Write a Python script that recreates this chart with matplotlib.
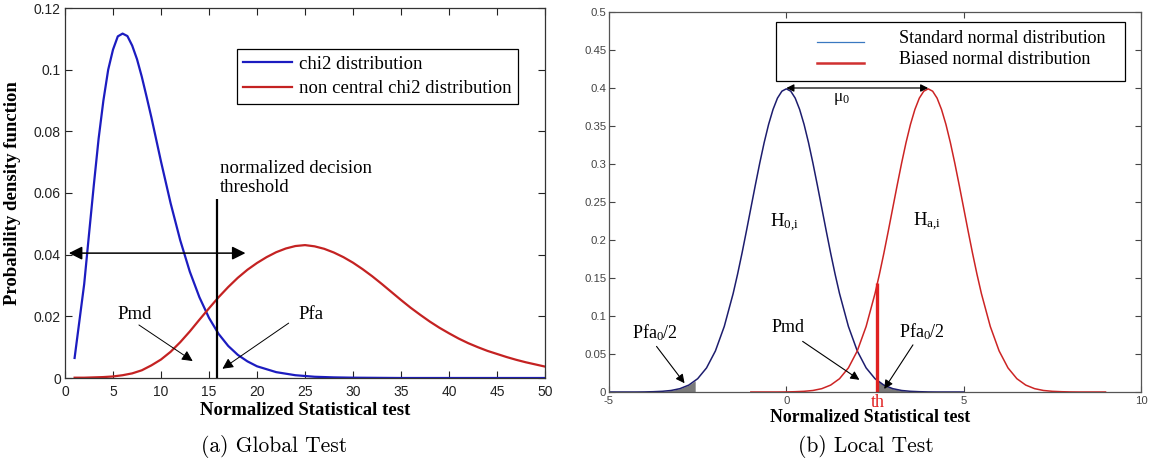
import numpy as np
import matplotlib
matplotlib.use('Agg')
import matplotlib.pyplot as plt
from matplotlib.patches import Rectangle
from matplotlib.lines import Line2D

plt.rcParams['mathtext.fontset'] = 'custom'
plt.rcParams['mathtext.rm'] = 'Liberation Serif'
plt.rcParams['mathtext.it'] = 'Liberation Serif:italic'
plt.rcParams['axes.unicode_minus'] = False

SERIF = 'Liberation Serif'
SANS = 'Liberation Sans'

# (a) global test : chi2 and non central chi2 densities
chi2_x = [1, 2, 2.5, 3, 3.5, 4, 4.5, 5, 5.5, 6, 6.5, 7, 7.5, 8, 8.5, 9, 10, 11, 12, 13, 14,
          15, 16, 17, 18, 19, 20, 22, 24, 26, 28, 30, 35, 40, 45, 50]
chi2_y = [0.0065, 0.0305, 0.0466, 0.0625, 0.0776, 0.0900, 0.1000, 0.1065, 0.1108, 0.1117,
          0.1109, 0.1078, 0.1034, 0.0977, 0.0912, 0.0845, 0.0702, 0.0567, 0.0447, 0.0345,
          0.0262, 0.0195, 0.0143, 0.0104, 0.0075, 0.0054, 0.0038, 0.0019, 0.0009, 0.0004,
          0.0002, 0.0001, 0.0, 0.0, 0.0, 0.0]
ncchi2_x = list(range(1, 51))
ncchi2_y = [0.0001, 0.0001, 0.0002, 0.0003, 0.0005, 0.0009, 0.0015, 0.0025, 0.0041, 0.0060,
            0.0085, 0.0116, 0.0151, 0.0189, 0.0226, 0.0262, 0.0295, 0.0325, 0.0351, 0.0373,
            0.0392, 0.0408, 0.0420, 0.0428, 0.0431, 0.0427, 0.0419, 0.0407, 0.0392, 0.0374,
            0.0353, 0.0330, 0.0305, 0.0279, 0.0253, 0.0228, 0.0205, 0.0183, 0.0163, 0.0145,
            0.0128, 0.0113, 0.0100, 0.0088, 0.0078, 0.0068, 0.0059, 0.0051, 0.0044, 0.0037]
global_th = 15.8
global_th_top = 0.058

# (b) local test : standard and biased normal densities
h0_x = [-5, -4.75, -4.5, -4.25, -4, -3.75, -3.5, -3.25, -3, -2.75, -2.5, -2.25, -2, -1.75,
        -1.5, -1.375, -1.25, -1.125, -1, -0.875, -0.75, -0.625, -0.5, -0.375, -0.25, -0.125,
        0, 0.125, 0.25, 0.375, 0.5, 0.625, 0.75, 0.875, 1, 1.125, 1.25, 1.375, 1.5,
        1.75, 2, 2.25, 2.5, 2.75, 3, 3.25, 3.5, 3.75, 4, 4.25, 4.5, 4.75, 5]
h0_y = [0.0, 0.0, 0.0, 0.0, 0.0001, 0.0004, 0.0009, 0.0020, 0.0044, 0.0091, 0.0175, 0.0317,
        0.0540, 0.0863, 0.1295, 0.1550, 0.1826, 0.2119, 0.2420, 0.2720, 0.3011, 0.3282,
        0.3521, 0.3718, 0.3867, 0.3958, 0.3989, 0.3958, 0.3867, 0.3718, 0.3521, 0.3282,
        0.3011, 0.2720, 0.2420, 0.2119, 0.1826, 0.1550, 0.1295, 0.0863, 0.0540, 0.0317,
        0.0175, 0.0091, 0.0044, 0.0020, 0.0009, 0.0004, 0.0001, 0.0, 0.0, 0.0, 0.0]
ha_x = [-1, -0.75, -0.5, -0.25, 0, 0.25, 0.5, 0.75, 1, 1.25, 1.5, 1.75, 2, 2.25,
        2.5, 2.625, 2.75, 2.875, 3, 3.125, 3.25, 3.375, 3.5, 3.625, 3.75, 3.875,
        4, 4.125, 4.25, 4.375, 4.5, 4.625, 4.75, 4.875, 5, 5.125, 5.25, 5.375, 5.5,
        5.75, 6, 6.25, 6.5, 6.75, 7, 7.25, 7.5, 7.75, 8, 8.25, 8.5, 8.75, 9]
ha_y = [0.0, 0.0, 0.0, 0.0, 0.0001, 0.0004, 0.0009, 0.0020, 0.0044, 0.0091, 0.0175, 0.0317,
        0.0540, 0.0863, 0.1295, 0.1550, 0.1826, 0.2119, 0.2420, 0.2720, 0.3011, 0.3282,
        0.3521, 0.3718, 0.3867, 0.3958, 0.3989, 0.3958, 0.3867, 0.3718, 0.3521, 0.3282,
        0.3011, 0.2720, 0.2420, 0.2119, 0.1826, 0.1550, 0.1295, 0.0863, 0.0540, 0.0317,
        0.0175, 0.0091, 0.0044, 0.0020, 0.0009, 0.0004, 0.0001, 0.0, 0.0, 0.0, 0.0]
tail_left_x = [-5, -4.5, -4, -3.75, -3.5, -3.25, -3, -2.75, -2.57]
tail_left_y = [0.0, 0.0, 0.0001, 0.0004, 0.0009, 0.0020, 0.0044, 0.0091, 0.0147]
tail_right_x = [2.57, 2.75, 3, 3.25, 3.5, 3.75, 4, 4.5, 5]
tail_right_y = [0.0147, 0.0091, 0.0044, 0.0020, 0.0009, 0.0004, 0.0001, 0.0, 0.0]
local_th = 2.57
local_th_top = 0.143

W, H = 1158, 463
fig = plt.figure(figsize=(W / 100, H / 100), dpi=100)
ax1 = fig.add_axes([65 / W, 1 - 378 / H, 480 / W, 370 / H])
ax2 = fig.add_axes([609 / W, 1 - 392 / H, 532 / W, 380 / H])

# ---------------- panel (a)
ax1.plot(chi2_x, chi2_y, color='#1c1cc0', lw=1.6, label='chi2 distribution')
ax1.plot(ncchi2_x, ncchi2_y, color='#c42222', lw=1.6, label='non central chi2 distribution')
ax1.vlines(global_th, 0, global_th_top, color='black', lw=1.6)
ax1.set_xlim(0, 50)
ax1.set_ylim(0, 0.12)
ax1.set_xticks(range(0, 51, 5))
ax1.set_yticks([0, 0.02, 0.04, 0.06, 0.08, 0.1, 0.12])
ax1.set_yticklabels(['0', '0.02', '0.04', '0.06', '0.08', '0.1', '0.12'])
ax1.tick_params(direction='in', top=True, right=True, length=5, width=0.8,
                labelsize=10, colors='#222222')
ax1.tick_params(axis='x', pad=5)
ax1.tick_params(axis='y', pad=3)
for lab in ax1.get_xticklabels() + ax1.get_yticklabels():
    lab.set_fontfamily(SANS)
for s in ax1.spines.values():
    s.set_color('#333333')
    s.set_linewidth(0.9)

ax1.set_xlabel('Normalized Statistical test', fontfamily=SERIF, fontweight='bold', fontsize=13.5)
ax1.xaxis.set_label_coords(0.5, -0.065)
ax1.set_ylabel('Probability density function', fontfamily=SERIF, fontweight='bold', fontsize=13.5)
ax1.yaxis.set_label_coords(-0.092, 0.5)

ax1.annotate('', xy=(0.4, 0.0405), xytext=(18.8, 0.0405),
             arrowprops=dict(arrowstyle='<|-|>', color='black', lw=1.1, mutation_scale=20,
                             shrinkA=0, shrinkB=0))
ax1.text(16.1, 0.0708, 'normalized decision\nthreshold', fontfamily=SERIF, fontsize=13.5,
         va='top', ha='left', linespacing=1.15)
ax1.text(7.3, 0.0207, 'Pmd', fontfamily=SERIF, fontsize=13.5, ha='center', va='center')
ax1.annotate('', xy=(13.3, 0.0055), xytext=(7.7, 0.0172),
             arrowprops=dict(arrowstyle='-|>', color='black', lw=0.7, mutation_scale=16,
                             shrinkA=0, shrinkB=0))
ax1.text(25.6, 0.0205, 'Pfa', fontfamily=SERIF, fontsize=13.5, ha='center', va='center')
ax1.annotate('', xy=(16.4, 0.003), xytext=(23.3, 0.0178),
             arrowprops=dict(arrowstyle='-|>', color='black', lw=0.7, mutation_scale=16,
                             shrinkA=0, shrinkB=0))

leg = ax1.legend(loc='upper left', bbox_to_anchor=(0.358, 0.889), borderaxespad=0,
                 prop={'family': SERIF, 'size': 13.5}, handlelength=2.6, handletextpad=0.35,
                 fancybox=False, framealpha=1, edgecolor='black', borderpad=0.35,
                 labelspacing=0.4)
leg.get_frame().set_linewidth(0.9)

# ---------------- panel (b)
ax2.fill_between(tail_left_x, 0, tail_left_y, color='#7a7a7a', lw=0)
ax2.fill_between(tail_right_x, 0, tail_right_y, color='#7a7a7a', lw=0)
ax2.plot(h0_x, h0_y, color='#1d1d6e', lw=1.1)
ax2.plot(ha_x, ha_y, color='#cc2424', lw=1.1)
ax2.vlines(local_th, 0, local_th_top, color='#e02020', lw=2.4)
ax2.set_xlim(-5, 10)
ax2.set_ylim(0, 0.5)
ax2.set_xticks([-5, 0, 5, 10])
ax2.set_yticks([0, 0.05, 0.1, 0.15, 0.2, 0.25, 0.3, 0.35, 0.4, 0.45, 0.5])
ax2.set_yticklabels(['0', '0.05', '0.1', '0.15', '0.2', '0.25', '0.3', '0.35', '0.4', '0.45', '0.5'])
ax2.tick_params(direction='in', top=True, right=True, length=4.5, width=0.8,
                labelsize=8.2, colors='#444444')
ax2.tick_params(axis='x', pad=3)
ax2.tick_params(axis='y', pad=2)
for lab in ax2.get_xticklabels() + ax2.get_yticklabels():
    lab.set_fontfamily(SANS)
for s in ax2.spines.values():
    s.set_color('#555555')
    s.set_linewidth(0.9)

ax2.set_xlabel('Normalized Statistical test', fontfamily=SERIF, fontweight='bold', fontsize=12.8)
ax2.xaxis.set_label_coords(0.49, -0.045)
ax2.text(local_th, -0.003, 'th', color='#e02020', fontfamily=SERIF, fontsize=13,
         ha='center', va='top', clip_on=False)

ax2.annotate('', xy=(0.0, 0.4), xytext=(4.0, 0.4),
             arrowprops=dict(arrowstyle='<|-|>', color='black', lw=0.9, mutation_scale=11,
                             shrinkA=0, shrinkB=0))
ax2.text(1.55, 0.386, 'μ$_0$', fontfamily=SERIF, fontsize=12.5, ha='center', va='center')
ax2.text(-0.05, 0.222, r'H$_{\mathrm{0{,}i}}$', fontfamily=SERIF, fontsize=13.5,
         ha='center', va='center')
ax2.text(3.98, 0.224, r'H$_{\mathrm{a{,}i}}$', fontfamily=SERIF, fontsize=13.5,
         ha='center', va='center')

ax2.text(-3.7, 0.078, 'Pfa$_0$/2', fontfamily=SERIF, fontsize=13, ha='center', va='center')
ax2.annotate('', xy=(-2.87, 0.0115), xytext=(-3.66, 0.06),
             arrowprops=dict(arrowstyle='-|>', color='black', lw=0.8, mutation_scale=13,
                             shrinkA=0, shrinkB=0))
ax2.text(0.05, 0.085, 'Pmd', fontfamily=SERIF, fontsize=13, ha='center', va='center')
ax2.annotate('', xy=(2.06, 0.016), xytext=(0.46, 0.0666),
             arrowprops=dict(arrowstyle='-|>', color='black', lw=0.8, mutation_scale=13,
                             shrinkA=0, shrinkB=0))
ax2.text(3.83, 0.08, 'Pfa$_0$/2', fontfamily=SERIF, fontsize=13, ha='center', va='center')
ax2.annotate('', xy=(2.76, 0.004), xytext=(3.57, 0.062),
             arrowprops=dict(arrowstyle='-|>', color='black', lw=0.8, mutation_scale=13,
                             shrinkA=0, shrinkB=0))

# legend of panel (b), drawn as a box in axes fraction
ax2.add_patch(Rectangle((0.314, 0.818), 0.656, 0.156, transform=ax2.transAxes,
                        facecolor='white', edgecolor='black', lw=0.9, zorder=5))
ax2.add_line(Line2D([0.391, 0.479], [0.922, 0.922], transform=ax2.transAxes,
                    color='#3a78c0', lw=0.9, zorder=6))
ax2.add_line(Line2D([0.391, 0.479], [0.866, 0.866], transform=ax2.transAxes,
                    color='#d03030', lw=1.8, zorder=6))
ax2.text(0.545, 0.929, 'Standard normal distribution', transform=ax2.transAxes,
         fontfamily=SERIF, fontsize=13, va='center', ha='left', zorder=7)
ax2.text(0.545, 0.874, 'Biased normal distribution', transform=ax2.transAxes,
         fontfamily=SERIF, fontsize=13, va='center', ha='left', zorder=7)

# captions
fig.text(274 / W, 1 - 447 / H, '(a) Global Test', fontfamily='cmr10', fontsize=15.5,
         ha='center', va='center')
fig.text(866 / W, 1 - 447 / H, '(b) Local Test', fontfamily='cmr10', fontsize=15.5,
         ha='center', va='center')

fig.savefig('out.png', dpi=100)
